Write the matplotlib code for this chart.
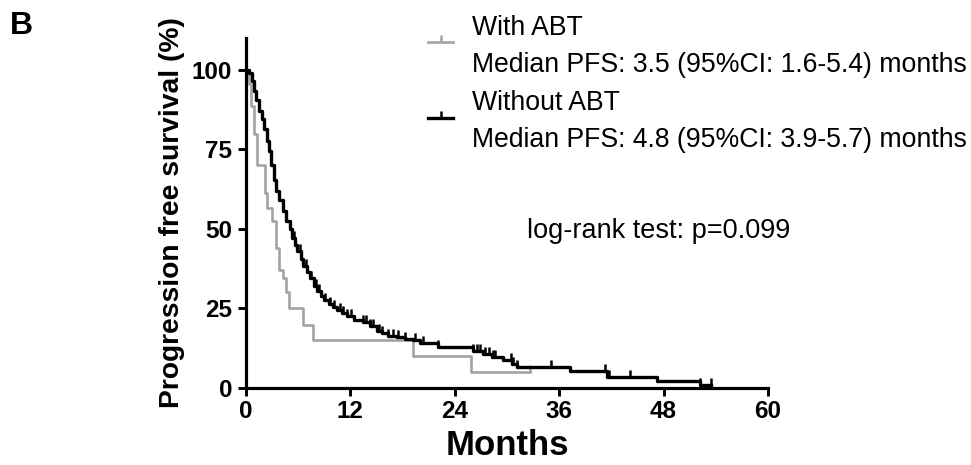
import numpy as np
import matplotlib
matplotlib.use('Agg')
import matplotlib.pyplot as plt
from matplotlib.path import Path
from matplotlib.lines import Line2D

plt.rcParams['font.family'] = ['Liberation Sans', 'DejaVu Sans']

# --- data (months, % progression free) ---
# With ABT: step times and survival after each step
gray_t = [0, 0.3, 0.55, 0.9, 1.3, 2.15, 2.45, 3.0, 3.4, 3.8, 4.2, 4.55, 4.9,
          6.6, 7.7, 19.2, 25.9, 32.6]
gray_s = [100, 95.5, 88.6, 79.7, 70.2, 61.3, 56.6, 52.4, 43.9, 37.1, 34.5,
          30.3, 25.0, 19.9, 15.1, 10.1, 5.1, 5.1]
gray_cens = [32.6]

# Without ABT
black_t = [0, 0.4, 0.7, 0.9, 1.2, 1.5, 1.8, 2.1, 2.4, 2.6, 2.9, 3.2, 3.5,
           3.8, 4.2, 4.6, 5.0, 5.3, 5.6, 5.9, 6.3, 6.6, 7.0, 7.4, 7.8, 8.2,
           8.6, 9.0, 9.5, 10.0, 10.5, 11.0, 11.6, 12.4, 13.5, 14.2, 15.0,
           15.6, 16.3, 17.3, 18.3, 19.2, 20.0, 22.1, 26.1, 27.2, 28.3, 29.5,
           30.6, 31.1, 37.2, 41.5, 47.2, 52.2, 53.5]
black_s = [100, 99.0, 96.5, 93.5, 90.5, 87, 84.5, 81.5, 77.5, 74.5, 70, 65.5,
           62, 59, 55.5, 52.5, 50, 47, 45, 43, 40.5, 38.5, 36.5, 34.5, 32,
           30.5, 29, 27.8, 26.5, 25.5, 24.5, 23.5, 22.5, 21.5, 20.8, 19.5,
           18, 17.2, 16.5, 16.0, 15.5, 15.1, 14.0, 12.8, 11.5, 10.8, 9.9,
           8.8, 7.6, 6.7, 5.4, 3.6, 2.2, 1.0, 1.0]
black_cens = [5.5, 6.2, 6.9, 7.5, 8.0, 8.4, 9.1, 9.6, 10.1, 10.8, 11.2, 11.6,
              12.1, 13.5, 13.8, 14.2, 14.6, 15.3, 15.6, 16.3, 16.9, 17.5,
              18.3, 19.4, 20.3, 22.1, 26.1, 26.5, 26.9, 27.5, 27.9, 28.4,
              28.6, 30.5, 30.7, 31.1, 35.0, 41.3, 41.5, 41.7, 44.1, 52.2, 53.5]

group_names = ['With ABT', 'Without ABT']
median_txt = ['Median PFS: 3.5 (95%CI: 1.6-5.4) months',
              'Median PFS: 4.8 (95%CI: 3.9-5.7) months']
GRAY = '#a3a3a3'
W, H = 971, 465

# censor mark: short vertical tick above the line
tick = Path([(0, 0), (0, 1)], [Path.MOVETO, Path.LINETO])


def surv_at(ts, ss, t):
    i = np.searchsorted(ts, t, side='right') - 1
    return ss[i]


fig = plt.figure(figsize=(9.71, 4.65), dpi=100)
ax = fig.add_axes([246 / W, 1 - 388 / H, 522 / W, 350 / H])

ax.step(gray_t, gray_s, where='post', color=GRAY, lw=1.9, zorder=2)
ax.plot(gray_cens, [surv_at(gray_t, gray_s, c) for c in gray_cens], ls='none',
        marker=tick, ms=10, mew=1.8, color=GRAY, zorder=2)
ax.step(black_t, black_s, where='post', color='black', lw=2.4, zorder=3)
ax.plot(black_cens, [surv_at(black_t, black_s, c) for c in black_cens], ls='none',
        marker=tick, ms=10, mew=1.8, color='black', zorder=3)

ax.set_xlim(0, 60)
ax.set_ylim(0, 110)
ax.set_xticks(np.arange(0, 61, 12))
ax.set_yticks([0, 25, 50, 75, 100])
for s in ['top', 'right']:
    ax.spines[s].set_visible(False)
for s in ['left', 'bottom']:
    ax.spines[s].set_linewidth(2.3)
ax.tick_params(length=6, width=2.1, labelsize=17.5)
ax.tick_params(axis='y', pad=4)
ax.tick_params(axis='x', pad=3)
for lab in ax.get_xticklabels() + ax.get_yticklabels():
    lab.set_fontweight('bold')
ax.set_xlabel('Months', fontsize=25, fontweight='bold', labelpad=4)
ax.set_ylabel('Progression free survival (%)', fontsize=20.3, fontweight='bold', labelpad=5)

# legend drawn by hand so the two-line labels sit as in the original
for i, (col, lw) in enumerate([(GRAY, 1.9), ('black', 2.4)]):
    yl = 1 - (42 + 76 * i) / H
    fig.add_artist(Line2D([428 / W, 440.5 / W, 453 / W], [yl] * 3, transform=fig.transFigure,
                          color=col, lw=lw, marker=tick, ms=10, mew=1.8, markevery=[1]))
    fig.text(472 / W, 1 - (35 + 75 * i) / H, group_names[i], fontsize=19.2, va='baseline')
    fig.text(472 / W, 1 - (72 + 75 * i) / H, median_txt[i], fontsize=19.2, va='baseline')

ax.text(32.3, 47.3, 'log-rank test: p=0.099', fontsize=19.5, va='baseline')
fig.text(10 / W, 1 - 34 / H, 'B', fontsize=23, fontweight='bold', va='baseline')

fig.savefig('out.png', dpi=100)
